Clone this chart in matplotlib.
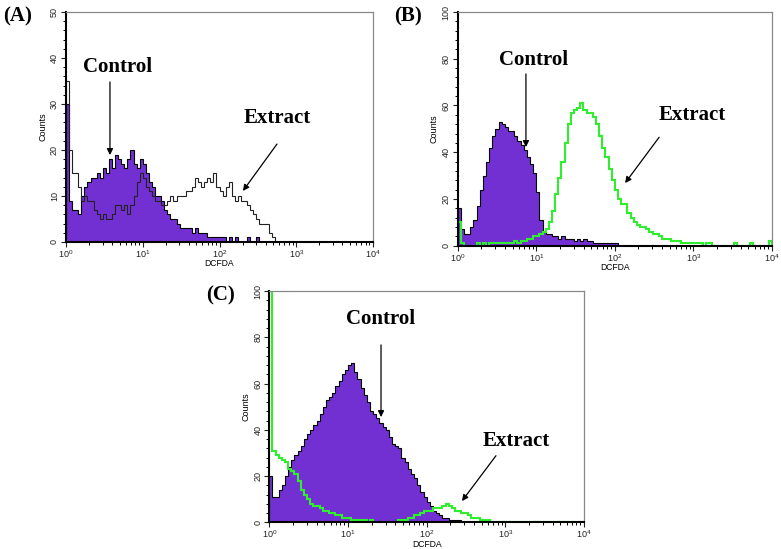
"""Flow cytometry DCFDA histograms, panels A-C (control vs extract)."""

import numpy as np
import matplotlib
matplotlib.use("Agg")
import matplotlib.pyplot as plt
from matplotlib.ticker import MultipleLocator, LogLocator, NullFormatter

plt.rcParams["font.family"] = ["Liberation Sans", "DejaVu Sans"]
plt.rcParams["mathtext.default"] = "regular"

# channel width in decades; counts, bin by bin from 10^0
BIN_W = 0.04
N_BINS = 100

a_control = [30, 9, 7, 7, 6, 10, 12, 13, 14, 14, 15, 14, 16, 15, 18, 16, 19, 18, 17, 16,
             18, 20, 17, 16, 18, 17, 15, 13, 12, 10, 10, 9, 7, 6, 5, 5, 4, 3, 3, 3,
             3, 2, 3, 2, 2, 2, 1, 1, 1, 1, 1, 1, 0, 1, 0, 1, 0, 0, 0, 1,
             0, 0, 1]
a_extract = [35, 20, 15, 15, 12, 9, 10, 9, 9, 7, 6, 5, 6, 5, 5, 6, 8, 8, 7, 8,
             6, 8, 10, 13, 15, 14, 12, 11, 10, 9, 9, 8, 8, 9, 10, 9, 10, 10, 10, 11,
             11, 12, 14, 13, 12, 13, 14, 13, 15, 12, 11, 10, 12, 13, 10, 9, 10, 9, 9, 8,
             7, 6, 5, 4, 4, 4, 2, 1]

b_control = [16, 7, 5, 5, 8, 11, 17, 24, 30, 36, 42, 47, 50, 53, 52, 51, 49, 49, 47, 45,
             43, 41, 38, 35, 31, 23, 11, 6, 5, 5, 4, 4, 3, 4, 3, 3, 3, 2, 3, 2,
             3, 2, 2, 1, 1, 1, 1, 1, 1, 1, 1]
b_extract = [10, 1, 0, 0, 0, 0, 1, 0, 1, 0, 1, 1, 1, 1, 1, 1, 1, 1, 2, 1,
             2, 2, 3, 3, 4, 4, 5, 6, 7, 10, 15, 22, 29, 36, 44, 52, 57, 58, 59, 61,
             58, 57, 57, 55, 52, 47, 42, 38, 33, 28, 24, 20, 18, 18, 14, 12, 10, 9, 8, 8,
             7, 6, 5, 5, 4, 3, 3, 3, 2, 2, 2, 1, 1, 1, 1, 1, 1, 1, 0, 1,
             1, 0, 0, 0, 0, 0, 0, 0, 1, 0, 0, 0, 0, 1, 0, 0, 0, 0, 0, 2]

c_control = [20, 11, 11, 14, 16, 20, 24, 27, 29, 31, 33, 36, 38, 40, 42, 44, 47, 50, 53, 54,
             56, 59, 61, 64, 66, 68, 69, 65, 62, 58, 55, 52, 48, 47, 45, 43, 41, 40, 37, 34,
             33, 32, 28, 26, 23, 21, 19, 16, 13, 11, 9, 7, 5, 4, 3, 2, 2, 1, 1, 1,
             1]
c_extract = [100, 31, 29, 28, 27, 26, 23, 22, 21, 18, 14, 12, 10, 8, 7, 7, 6, 5, 5, 4,
             4, 3, 3, 2, 2, 2, 1, 1, 1, 1, 1, 0, 1, 0, 0, 0, 0, 0, 0, 0,
             0, 1, 1, 1, 2, 2, 3, 3, 4, 5, 5, 5, 6, 6, 6, 7, 8, 7, 6, 5,
             5, 4, 4, 3, 2, 2, 2, 1, 1, 1]

PURPLE = "#7230D2"
GREEN = "#2EEE2E"


def counts(vals):
    v = np.zeros(N_BINS)
    v[:len(vals)] = vals
    return v


def setup_axes(ax, ymax, ymajor, yminor):
    ax.set_xscale("log")
    ax.set_xlim(1, 1e4)
    ax.set_ylim(0, ymax)
    ax.yaxis.set_major_locator(MultipleLocator(ymajor))
    ax.yaxis.set_minor_locator(MultipleLocator(yminor))
    ax.xaxis.set_minor_locator(LogLocator(base=10, subs=np.arange(2, 10)))
    ax.xaxis.set_minor_formatter(NullFormatter())
    ax.tick_params(axis="both", which="major", length=3.5, width=0.8,
                   labelsize=6.5, colors="#222222")
    ax.tick_params(axis="both", which="minor", length=2, width=0.7)
    ax.tick_params(axis="y", labelrotation=90, pad=1.5)
    ax.tick_params(axis="x", pad=1)
    for t in ax.get_yticklabels():
        t.set_verticalalignment("center")
    ax.spines["left"].set_linewidth(1.5)
    ax.spines["bottom"].set_linewidth(1.5)
    for s in ("top", "right"):
        ax.spines[s].set_color("#888888")
        ax.spines[s].set_linewidth(0.9)
    ax.set_ylabel("Counts", fontsize=6.5, labelpad=2)
    ax.set_xlabel("DCFDA", fontsize=6.2, labelpad=-0.5)


def label(ax, text, txy, tail, head):
    ax.text(*txy, text, ha="center", va="center", fontsize=15,
            family=["Liberation Serif", "DejaVu Serif"], fontweight="bold",
            clip_on=False)
    ax.annotate("", xy=head, xytext=tail,
                arrowprops=dict(arrowstyle="-|>", color="black", lw=0.9,
                                mutation_scale=9, shrinkA=0, shrinkB=0),
                annotation_clip=False)


edges = 10 ** (BIN_W * np.arange(N_BINS + 1))

fig = plt.figure(figsize=(7.81, 5.49), dpi=100)
axA = fig.add_axes([0.0845, 0.5592, 0.3931, 0.4189])
axB = fig.add_axes([0.5860, 0.5526, 0.4025, 0.4254])
axC = fig.add_axes([0.3448, 0.0486, 0.4030, 0.4213])

# (A) both traces black, control filled
axA.stairs(counts(a_control), edges, fill=True, color=PURPLE, lw=0)
axA.stairs(counts(a_control), edges, color="black", lw=0.8)
axA.stairs(counts(a_extract), edges, color="#222222", lw=0.8)
setup_axes(axA, 50, 10, 2)
label(axA, "Control", (4.76, 38.0), (3.74, 34.8), (3.74, 18.9))
label(axA, "Extract", (561, 27.0), (561, 21.3), (202, 11.1))

# (B)
axB.stairs(counts(b_control), edges, fill=True, color=PURPLE, lw=0)
axB.stairs(counts(b_control), edges, color="black", lw=0.8)
axB.stairs(counts(b_extract), edges, color=GREEN, lw=1.5)
setup_axes(axB, 100, 20, 4)
label(axB, "Control", (9.35, 79.5), (7.39, 73.5), (7.39, 42.2))
label(axB, "Extract", (962, 55.9), (366, 46.4), (135, 26.8))

# (C)
axC.stairs(counts(c_control), edges, fill=True, color=PURPLE, lw=0)
axC.stairs(counts(c_control), edges, color="black", lw=0.8)
axC.stairs(counts(c_extract), edges, color=GREEN, lw=1.5)
setup_axes(axC, 100, 20, 4)
label(axC, "Control", (26.3, 87.9), (26.3, 76.7), (26.3, 45.5))
label(axC, "Extract", (1365, 35.1), (760, 28.8), (281, 9.2))

serif_bold = dict(fontsize=15, family=["Liberation Serif", "DejaVu Serif"],
                  fontweight="bold", ha="left", va="center")
fig.text(3 / 781, 1 - 16 / 549, "(A)", **serif_bold)
fig.text(394 / 781, 1 - 16 / 549, "(B)", **serif_bold)
fig.text(206 / 781, 1 - 295 / 549, "(C)", **serif_bold)

fig.savefig("out.png", dpi=100)
